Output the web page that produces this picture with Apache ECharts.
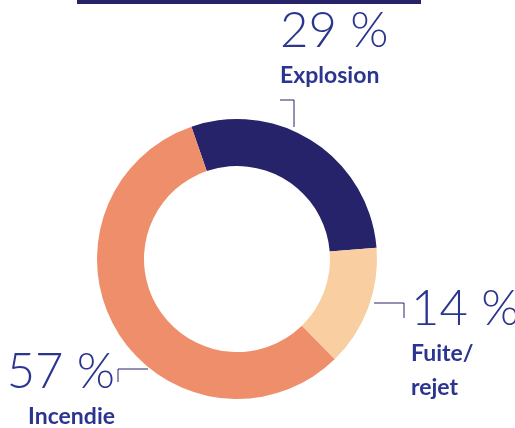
<!DOCTYPE html>
<html>
<head>
<meta charset="utf-8">
<script src="https://cdn.jsdelivr.net/npm/echarts@6/dist/echarts.min.js"></script>
<style>
    html, body { margin: 0; padding: 0; background: #ffffff; }
    #chart { width: 515px; height: 428px; }
</style>
</head>
<body>
<div id="chart"></div>
<script>
    // categories and shares (%)
    const categories = ['Explosion', 'Fuite/\nrejet', 'Incendie'];
    const shares = [29, 14, 57];
    const slice_colors = ['#27236a', '#f9cfa1', '#ef8e6a'];

    // where each label sits, and its leader line (page pixels)
    const label_places = [
        {x: 280, y: 4, align: 'left', line: [[294, 127], [294, 100], [280, 100]]},
        {x: 411, y: 282, align: 'left', line: [[374, 303], [404, 303], [404, 318]]},
        {x: 115, y: 345, align: 'right', line: [[148, 369], [118, 369], [118, 382]]}
    ];

    const text_color = '#2b3590';

    const chart = echarts.init(document.getElementById('chart'));

    chart.setOption({
        animation: false,
        graphic: [{
            type: 'rect',
            shape: {x: 77, y: 0, width: 344, height: 4},
            style: {fill: '#27236a'}
        }],
        series: [{
            type: 'pie',
            center: [237, 259],
            radius: [93, 140],
            startAngle: 109,
            clockwise: true,
            data: categories.map((name, i) => {
                return {name: name, value: shares[i], itemStyle: {color: slice_colors[i]}}
            }),
            label: {
                show: true,
                overflow: 'none',
                alignTo: 'none',
                formatter: function (p) {
                    return '{p|' + p.value + ' %}\n{n|' + p.name.split('\n').join('}\n{n|') + '}';
                },
                rich: {
                    p: {
                        fontFamily: 'Lato',
                        fontWeight: 300,
                        fontSize: 49,
                        lineHeight: 55,
                        color: text_color
                    },
                    n: {
                        fontFamily: 'Lato',
                        fontWeight: 'bold',
                        fontSize: 23,
                        lineHeight: 34,
                        color: text_color
                    }
                }
            },
            labelLine: {
                show: true,
                lineStyle: {color: '#27236a', width: 1}
            },
            labelLayout: function (params) {
                const place = label_places[params.dataIndex];
                return {
                    x: place.x,
                    y: place.y,
                    align: place.align,
                    verticalAlign: 'top',
                    width: 200,
                    labelLinePoints: place.line
                };
            }
        }]
    });
</script>
</body>
</html>
